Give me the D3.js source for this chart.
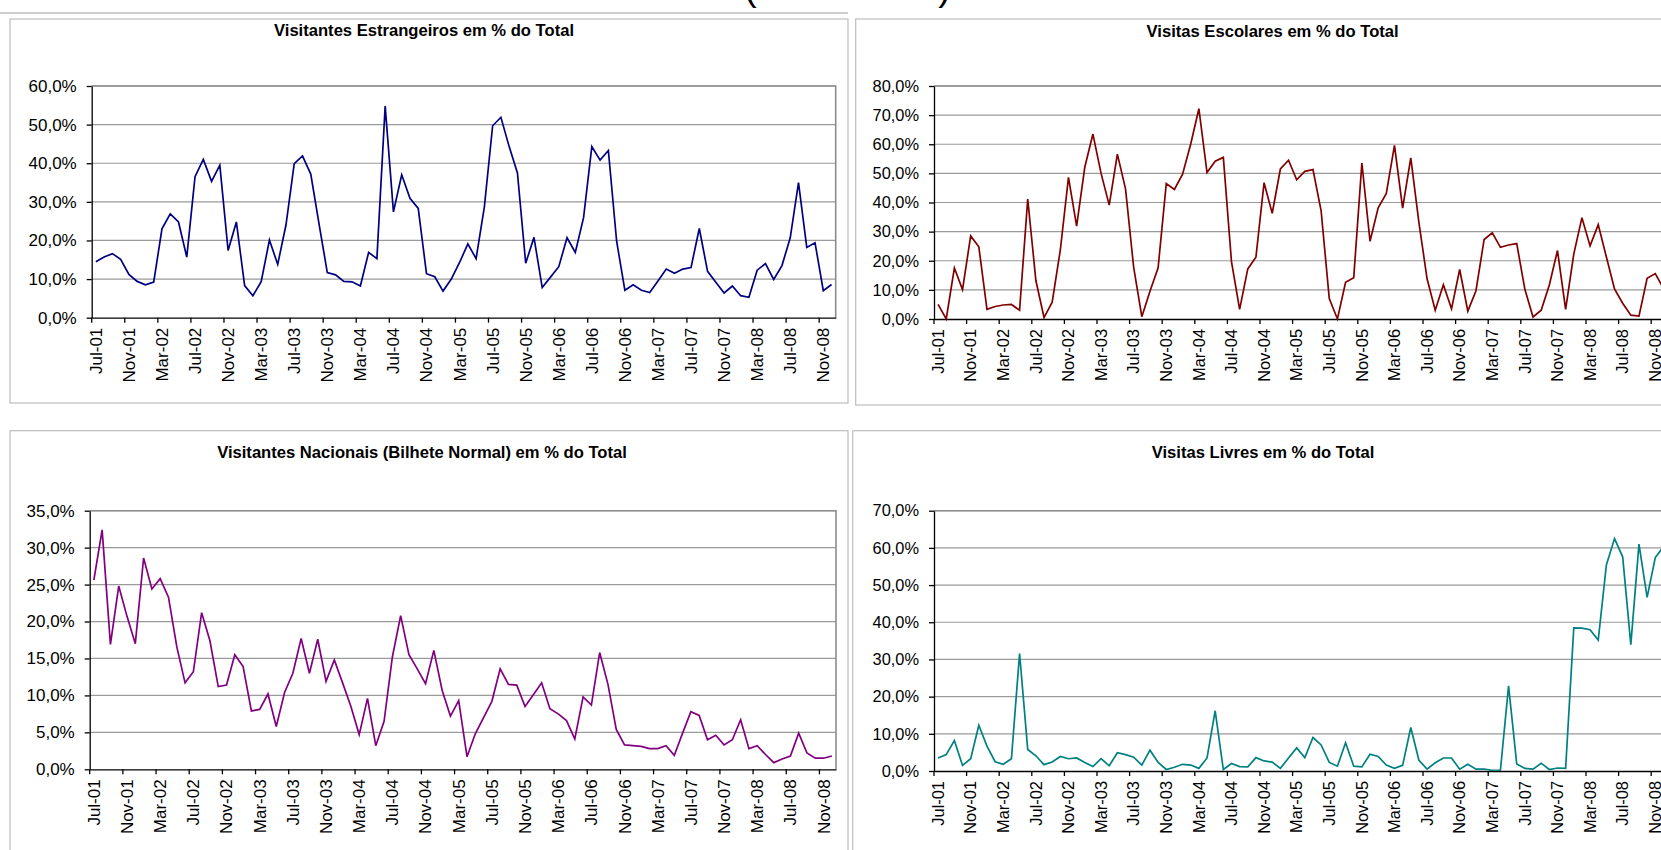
<!DOCTYPE html>
<html><head><meta charset="utf-8">
<script src="https://cdn.jsdelivr.net/npm/d3@7/dist/d3.min.js"></script>
<style>
html,body{margin:0;padding:0;background:#fff;overflow:hidden}
svg{display:block}
text{font-family:"Liberation Sans",Arial,Helvetica,sans-serif}
</style>
</head><body>
<svg id="chart" width="1661" height="850"></svg>
<script>
// ---------- DATA ----------
const monthNames = ["Jan","Feb","Mar","Apr","May","Jun","Jul","Aug","Sep","Oct","Nov","Dec"];
const startYear = 2001, startMonth = 6, nMonths = 90; // Jul-01 .. Dec-08
const categories = d3.range(nMonths).map(i => {
  const m = (startMonth + i) % 12, y = startYear + Math.floor((startMonth + i) / 12);
  return monthNames[m] + "-" + String(y % 100).padStart(2, "0");
});
const tickLabels = ["Jul-01","Nov-01","Mar-02","Jul-02","Nov-02","Mar-03","Jul-03","Nov-03",
  "Mar-04","Jul-04","Nov-04","Mar-05","Jul-05","Nov-05","Mar-06","Jul-06","Nov-06","Mar-07",
  "Jul-07","Nov-07","Mar-08","Jul-08","Nov-08"];

const estrangeiros = [14.5,15.7,16.6,15.1,11.2,9.4,8.5,9.2,23.0,26.9,
  24.8,15.7,36.5,41.0,35.3,39.5,17.4,24.8,8.3,5.7,
  9.3,20.1,13.8,24.0,39.9,41.9,37.2,24.3,11.7,11.1,
  9.4,9.3,8.2,16.9,15.3,54.8,27.4,37.0,30.9,28.3,
  11.4,10.6,6.9,10.0,14.3,19.1,15.3,28.7,49.7,51.9,
  44.3,37.5,14.1,20.8,7.8,10.5,13.2,20.7,16.9,25.9,
  44.3,40.8,43.3,19.8,7.1,8.5,7.1,6.5,9.5,12.6,
  11.5,12.6,13.0,23.1,12.0,9.2,6.4,8.2,5.7,5.3,
  12.3,14.0,9.9,13.5,20.7,35.0,18.2,19.4,7.0,8.6];

const escolares = [5.0,0.0,17.5,10.1,28.5,24.8,3.3,4.3,4.8,5.0,
  3.0,41.2,13.2,0.5,5.8,23.7,48.6,31.9,52.1,63.5,
  50.0,39.1,56.6,44.7,17.7,0.8,9.5,17.6,46.5,44.5,
  49.7,60.1,72.2,50.3,54.2,55.5,19.7,3.3,17.2,21.2,
  46.8,36.3,51.5,54.5,47.8,50.7,51.3,37.1,7.0,0.0,
  12.6,14.2,53.5,26.7,38.2,43.1,59.6,38.1,55.3,33.1,
  13.8,3.0,11.8,3.5,17.0,2.7,9.7,27.3,29.6,24.6,
  25.4,25.9,10.2,0.7,3.0,11.7,23.5,3.3,22.3,34.8,
  25.1,32.4,21.3,10.3,5.4,1.3,1.0,14.0,15.6,10.5];

const nacionais = [25.6,32.4,16.9,24.8,20.7,17.0,28.6,24.4,25.8,23.3,
  16.6,11.7,13.2,21.2,17.4,11.2,11.4,15.5,13.9,7.9,
  8.1,10.2,5.8,10.4,13.0,17.7,13.0,17.6,11.9,14.8,
  11.7,8.5,4.7,9.6,3.2,6.5,15.2,20.8,15.5,13.6,
  11.6,16.1,10.7,7.2,9.3,1.7,4.8,7.0,9.2,13.6,
  11.5,11.4,8.5,10.1,11.7,8.2,7.5,6.6,4.1,9.8,
  8.7,15.8,11.5,5.4,3.3,3.2,3.1,2.8,2.8,3.2,
  1.9,4.9,7.8,7.3,4.0,4.6,3.3,4.0,6.7,2.8,
  3.2,2.0,0.9,1.4,1.8,4.9,2.2,1.5,1.5,1.8];

const livres = [3.5,4.4,8.2,1.5,3.3,12.3,6.7,2.5,1.8,3.3,
  31.6,5.8,4.1,1.7,2.4,3.9,3.3,3.5,2.3,1.2,
  3.3,1.4,4.9,4.4,3.7,1.6,5.6,2.3,0.4,1.0,
  1.8,1.6,0.7,3.5,16.2,0.4,2.0,1.2,1.1,3.6,
  2.7,2.4,0.7,3.5,6.2,3.6,9.0,7.0,2.3,1.3,
  7.6,1.3,1.1,4.5,3.9,1.6,0.7,1.5,11.7,2.9,
  0.5,2.2,3.5,3.5,0.5,1.8,0.5,0.5,0.2,0.2,
  22.9,1.9,0.7,0.5,2.1,0.4,0.8,0.7,38.5,38.4,
  38.0,35.2,55.4,62.5,57.6,34.0,61.0,46.7,57.4,60.3];

const yTicksEstr = [0,10,20,30,40,50,60];
const yTicksEsc  = [0,10,20,30,40,50,60,70,80];
const yTicksNac  = [0,5,10,15,20,25,30,35];
const yTicksLiv  = [0,10,20,30,40,50,60,70];

const titles = ["Visitantes Estrangeiros em % do Total","Visitas Escolares em % do Total",
  "Visitantes Nacionais (Bilhete Normal) em % do Total","Visitas Livres em % do Total"];
const mainTitle = "(2001-2008)";

// ---------- DRAW ----------
const svg = d3.select("#chart");
const fmt = v => v.toFixed(1).replace(".", ",") + "%";

// cut-off main title at the very top
svg.append("text").attr("x", 847.5).attr("y", 0).attr("text-anchor", "middle")
  .attr("font-size", 38).attr("fill", "#000").text(mainTitle);
svg.append("line").attr("x1", 0).attr("x2", 848).attr("y1", 13).attr("y2", 13)
  .attr("stroke", "#cfcfcf").attr("stroke-width", 2);

function drawChart(cfg) {
  const g = svg.append("g");
  g.append("rect").attr("x", cfg.frame[0]).attr("y", cfg.frame[1])
    .attr("width", cfg.frame[2]).attr("height", cfg.frame[3])
    .attr("fill", "#fff").attr("stroke", "#bdbdbd").attr("stroke-width", 1.2);

  g.append("text").attr("x", cfg.titlePos[0]).attr("y", cfg.titlePos[1])
    .attr("text-anchor", "middle").attr("dominant-baseline", "central")
    .attr("font-weight", "bold").attr("font-size", cfg.titleSize).attr("fill", "#000")
    .text(cfg.title);

  const [L, T, R, B] = cfg.plot;
  const x = d3.scaleBand().domain(categories).range([L, R]).padding(0);
  const y = d3.scaleLinear().domain([0, cfg.yTicks[cfg.yTicks.length - 1]]).range([B, T]);

  // gridlines
  g.append("g").selectAll("line").data(cfg.yTicks.slice(1)).join("line")
    .attr("x1", L).attr("x2", R).attr("y1", d => y(d)).attr("y2", d => y(d))
    .attr("stroke", "#9a9a9a").attr("stroke-width", 1.2);

  // plot border (top/right)
  g.append("path").attr("d", `M${L},${T}H${R}V${B}`).attr("fill", "none")
    .attr("stroke", "#8c8c8c").attr("stroke-width", 1.6);

  // y axis
  const ya = g.append("g").attr("transform", `translate(${L},0)`)
    .call(d3.axisLeft(y).tickValues(cfg.yTicks).tickFormat(fmt).tickSizeInner(5).tickSizeOuter(0).tickPadding(10));
  ya.selectAll("path,line").attr("stroke", "#000").attr("stroke-width", 1.3);
  ya.selectAll("text").attr("font-size", cfg.tickSize).attr("fill", "#000")
    .attr("font-family", '"Liberation Sans",Arial,sans-serif');

  // x axis labels (centred on categories)
  const xa = g.append("g").attr("transform", `translate(0,${B})`)
    .call(d3.axisBottom(x).tickValues(tickLabels).tickSize(0).tickSizeOuter(0));
  xa.select(".domain").attr("stroke", "#000").attr("stroke-width", 1.3);
  xa.selectAll("text").attr("transform", "rotate(-90)").attr("x", -10).attr("y", 0)
    .attr("dy", "0.35em").attr("text-anchor", "end").attr("font-size", cfg.tickSize)
    .attr("fill", "#000").attr("font-family", '"Liberation Sans",Arial,sans-serif');
  // tick marks between categories
  g.append("g").selectAll("line").data(tickLabels).join("line")
    .attr("x1", d => x(d)).attr("x2", d => x(d)).attr("y1", B).attr("y2", B + 5)
    .attr("stroke", "#000").attr("stroke-width", 1.3);

  // series
  const line = d3.line().x((d, i) => x(categories[i]) + x.bandwidth() / 2).y(d => y(d));
  g.append("path").datum(cfg.values).attr("d", line).attr("fill", "none")
    .attr("stroke", cfg.color).attr("stroke-width", 1.7).attr("stroke-linejoin", "miter");
}

drawChart({frame:[10,19,838,384], plot:[91.7,86,835.7,317.7], title:titles[0], titlePos:[424,30],
  titleSize:16.6, tickSize:17, yTicks:yTicksEstr, values:estrangeiros, color:"#000080"});
drawChart({frame:[855.7,19,838,386], plot:[934,86,1667.5,319], title:titles[1], titlePos:[1272.6,31.8],
  titleSize:16.6, tickSize:16.4, yTicks:yTicksEsc, values:escolares, color:"#800000"});
drawChart({frame:[10,430.7,838,440], plot:[89.7,510.7,836,769.3], title:titles[2], titlePos:[422,452],
  titleSize:16.6, tickSize:17, yTicks:yTicksNac, values:nacionais, color:"#800080"});
drawChart({frame:[852.7,430.7,838,440], plot:[934,510.7,1667.5,771], title:titles[3], titlePos:[1263,452.3],
  titleSize:16.6, tickSize:16.4, yTicks:yTicksLiv, values:livres, color:"#008080"});
</script>
</body></html>
